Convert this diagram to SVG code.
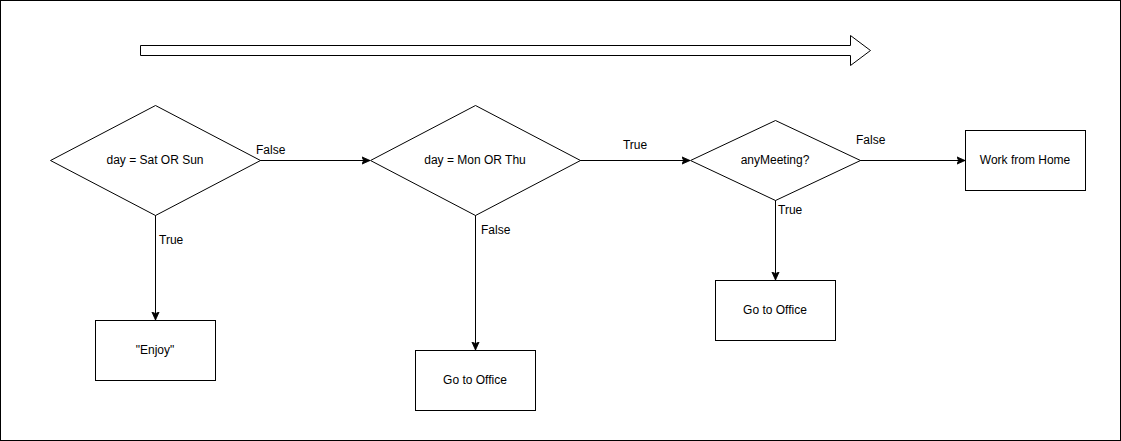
<svg xmlns="http://www.w3.org/2000/svg" width="1121" height="441" viewBox="0 0 1121 441">
<defs>
<style>
.shape{fill:#ffffff;stroke:#000000;stroke-width:1}
.edge{fill:none;stroke:#000000;stroke-width:1}
text{font-family:"Liberation Sans",Arial,sans-serif;font-size:12px;fill:#000000}
.c{text-anchor:middle;dominant-baseline:central}
.l{dominant-baseline:central}
</style>
<marker id="arr" viewBox="0 0 10 10" refX="9" refY="5" markerWidth="9" markerHeight="9" orient="auto" markerUnits="userSpaceOnUse">
<path d="M0,1 L9,5 L0,9 L2,5 Z" fill="#000000" stroke="#000000" stroke-width="1"/>
</marker>
</defs>
<rect x="0.5" y="0.5" width="1120" height="440" fill="#ffffff" stroke="#000000" stroke-width="1"/>
<g id="timeline">
<path class="shape" d="M140.5,45.5 L850.5,45.5 L850.5,35.5 L870.5,50.5 L850.5,65.5 L850.5,55.5 L140.5,55.5 Z"/>
</g>
<g id="connectors">
<path class="edge" d="M260,160.5 L370,160.5" marker-end="url(#arr)"/>
<text class="l" x="256" y="150">False</text>
<path class="edge" d="M580,160.5 L690,160.5" marker-end="url(#arr)"/>
<text class="c" x="635" y="145">True</text>
<path class="edge" d="M860,160.5 L965,160.5" marker-end="url(#arr)"/>
<text class="l" x="856" y="140">False</text>
<path class="edge" d="M155.5,215 L155.5,320" marker-end="url(#arr)"/>
<text class="l" x="159" y="240">True</text>
<path class="edge" d="M475.5,215 L475.5,350" marker-end="url(#arr)"/>
<text class="l" x="481" y="230">False</text>
<path class="edge" d="M775.5,200 L775.5,280" marker-end="url(#arr)"/>
<text class="l" x="778" y="210">True</text>
</g>
<g id="d1">
<path class="shape" d="M155.5,105.5 L260.5,160.5 L155.5,215.5 L50.5,160.5 Z"/>
<text class="c" x="155" y="160">day = Sat OR Sun</text>
</g>
<g id="d2">
<path class="shape" d="M475.5,105.5 L580.5,160.5 L475.5,215.5 L370.5,160.5 Z"/>
<text class="c" x="475" y="160">day = Mon OR Thu</text>
</g>
<g id="d3">
<path class="shape" d="M775.5,120.5 L860.5,160.5 L775.5,200.5 L690.5,160.5 Z"/>
<text class="c" x="775" y="160">anyMeeting?</text>
</g>
<g id="wfh">
<rect class="shape" x="965.5" y="130.5" width="120" height="60"/>
<text class="c" x="1025" y="160">Work from Home</text>
</g>
<g id="enjoy">
<rect class="shape" x="95.5" y="320.5" width="120" height="60"/>
<text class="c" x="155" y="350">"Enjoy"</text>
</g>
<g id="office1">
<rect class="shape" x="415.5" y="350.5" width="120" height="60"/>
<text class="c" x="475" y="380">Go to Office</text>
</g>
<g id="office2">
<rect class="shape" x="715.5" y="280.5" width="120" height="60"/>
<text class="c" x="775" y="310">Go to Office</text>
</g>
</svg>
